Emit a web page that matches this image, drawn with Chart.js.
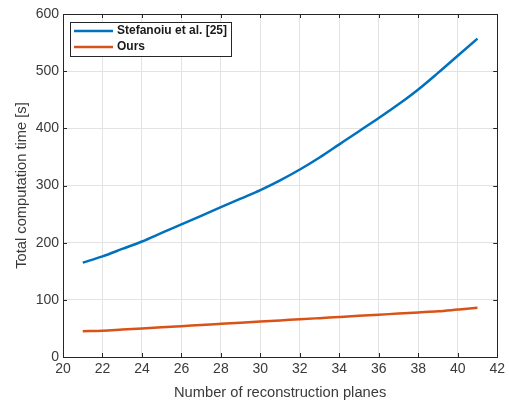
<!DOCTYPE html>
<html>
<head>
<meta charset="utf-8">
<script src="https://cdn.jsdelivr.net/npm/chart.js@4.4.1/dist/chart.umd.min.js"></script>
<style>
  html, body { margin: 0; padding: 0; background: #fff; }
  #wrap { width: 509px; height: 402px; }
</style>
</head>
<body>
<div id="wrap"><canvas id="chart" width="509" height="402"></canvas></div>
<script>
const planes = [21, 22, 23, 24, 25, 26, 27, 28, 29, 30, 31, 32, 33, 34, 35, 36, 37, 38, 39, 40, 41];
const stefanoiuTimes = [165, 176, 189, 202, 217, 232, 247, 262, 277, 292, 309, 328, 349, 372, 395, 418, 442, 468, 497, 527, 557];
const oursTimes = [45, 46, 48, 50, 52, 54, 56, 58, 60, 62, 64, 66, 68, 70, 72, 74, 76, 78, 80, 83, 86];
const seriesLabels = ['Stefanoiu et al. [25]', 'Ours'];
const xTicks = [20, 22, 24, 26, 28, 30, 32, 34, 36, 38, 40, 42];
const yTicks = [0, 100, 200, 300, 400, 500, 600];

const FONT = 'Liberation Sans, Arial, Helvetica, sans-serif';
const TEXT = '#3a3a3a';

function toPoints(xs, ys) {
    return xs.map((x, i) => ({ x: x, y: ys[i] }));
}

// box, inward tick marks and legend in MATLAB style
const matlabAxes = {
    id: 'matlabAxes',
    afterDatasetsDraw(chart) {
        const ctx = chart.ctx;
        const a = chart.chartArea;
        const xs = chart.scales.x, ys = chart.scales.y;
        ctx.save();
        ctx.strokeStyle = '#262626';
        ctx.lineWidth = 1;
        ctx.beginPath();
        xTicks.forEach(v => {
            const px = Math.round(xs.getPixelForValue(v)) + 0.5;
            ctx.moveTo(px, a.bottom); ctx.lineTo(px, a.bottom - 4);
            ctx.moveTo(px, a.top); ctx.lineTo(px, a.top + 4);
        });
        yTicks.forEach(v => {
            const py = Math.round(ys.getPixelForValue(v)) + 0.5;
            ctx.moveTo(a.left, py); ctx.lineTo(a.left + 4, py);
            ctx.moveTo(a.right, py); ctx.lineTo(a.right - 4, py);
        });
        ctx.stroke();
        ctx.strokeRect(Math.round(a.left) + 0.5, Math.round(a.top) + 0.5,
            Math.round(a.right - a.left), Math.round(a.bottom - a.top));

        // legend
        const lx = a.left + 7, ly = a.top + 8, lw = 161, lh = 34;
        ctx.fillStyle = '#fff';
        ctx.fillRect(lx, ly, lw, lh);
        ctx.strokeStyle = '#262626';
        ctx.strokeRect(lx + 0.5, ly + 0.5, lw, lh);
        ctx.font = 'bold 12px ' + FONT;
        ctx.textBaseline = 'middle';
        chart.data.datasets.forEach((ds, i) => {
            const yy = ly + 9 + i * 16;
            ctx.strokeStyle = ds.borderColor;
            ctx.lineWidth = 2.5;
            ctx.beginPath();
            ctx.moveTo(lx + 4, yy); ctx.lineTo(lx + 43, yy);
            ctx.stroke();
            ctx.fillStyle = '#1a1a1a';
            ctx.fillText(ds.label, lx + 47, yy);
        });
        ctx.restore();
    }
};

new Chart(document.getElementById('chart'), {
    type: 'line',
    data: {
        datasets: [{
            label: seriesLabels[0],
            data: toPoints(planes, stefanoiuTimes),
            borderColor: '#0072BD',
            borderWidth: 2.5,
            pointRadius: 0,
            cubicInterpolationMode: 'monotone'
        }, {
            label: seriesLabels[1],
            data: toPoints(planes, oursTimes),
            borderColor: '#D95319',
            borderWidth: 2.5,
            pointRadius: 0,
            cubicInterpolationMode: 'monotone'
        }]
    },
    options: {
        responsive: false,
        animation: false,
        layout: { padding: { top: 14, right: 10, left: 0, bottom: 0 } },
        plugins: {
            legend: { display: false },
            tooltip: { enabled: false }
        },
        scales: {
            x: {
                type: 'linear',
                min: 20, max: 42,
                afterBuildTicks: s => { s.ticks = xTicks.map(v => ({ value: v })); },
                afterFit: s => { s.height = 45; },
                ticks: { color: TEXT, font: { family: FONT, size: 14 }, padding: 4, maxRotation: 0 },
                grid: { color: '#e3e3e3', drawTicks: false },
                border: { display: false },
                title: {
                    display: true,
                    text: 'Number of reconstruction planes',
                    color: TEXT,
                    font: { family: FONT, size: 14.7 },
                    padding: { top: 2, bottom: 0 }
                }
            },
            y: {
                min: 0, max: 600,
                afterBuildTicks: s => { s.ticks = yTicks.map(v => ({ value: v })); },
                afterFit: s => { s.width = 63; },
                ticks: { color: TEXT, font: { family: FONT, size: 14 }, padding: 4 },
                grid: { color: '#e3e3e3', drawTicks: false },
                border: { display: false },
                title: {
                    display: true,
                    text: 'Total computation time [s]',
                    color: TEXT,
                    font: { family: FONT, size: 14.7 },
                    padding: { top: 13, bottom: 0 }
                }
            }
        }
    },
    plugins: [matlabAxes]
});
</script>
</body>
</html>
